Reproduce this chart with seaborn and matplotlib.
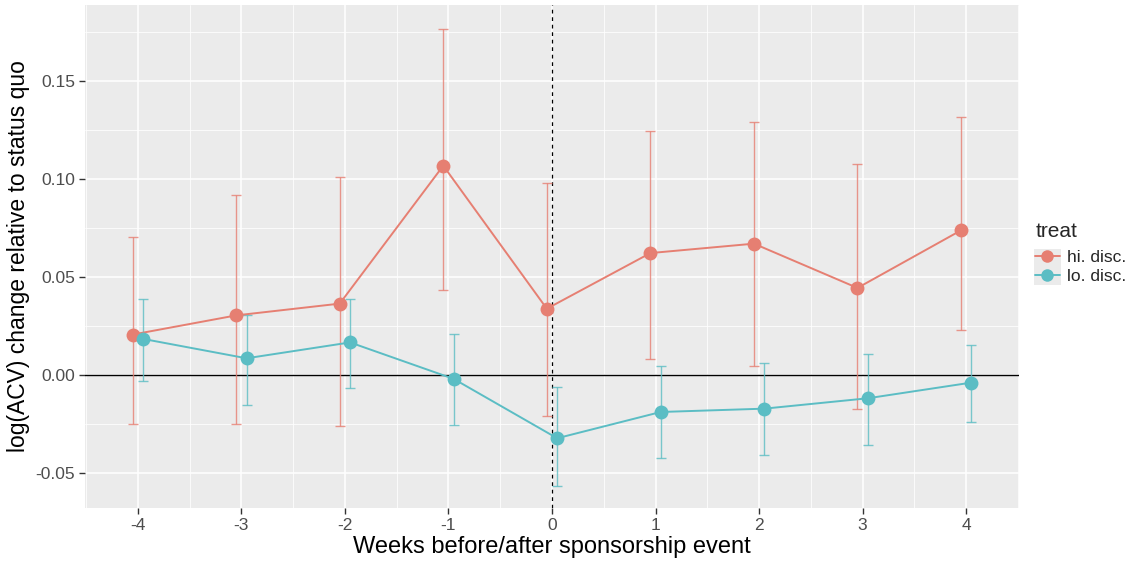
import numpy as np
import pandas as pd
import matplotlib
matplotlib.use("Agg")
import matplotlib.pyplot as plt
from matplotlib.patches import Rectangle
import seaborn as sns

weeks = [-4, -3, -2, -1, 0, 1, 2, 3, 4]
treat_levels = ["hi. disc.", "lo. disc."]

hi_est = [0.0208, 0.0306, 0.0366, 0.1070, 0.0340, 0.0624, 0.0672, 0.0446, 0.0740]
hi_lo = [-0.0250, -0.0246, -0.0260, 0.0436, -0.0210, 0.0082, 0.0046, -0.0172, 0.0232]
hi_hi = [0.0706, 0.0922, 0.1012, 0.1770, 0.0980, 0.1245, 0.1293, 0.1079, 0.1316]

lo_est = [0.0186, 0.0087, 0.0168, -0.0018, -0.0321, -0.0187, -0.0170, -0.0117, -0.0037]
lo_lo = [-0.0029, -0.0150, -0.0064, -0.0255, -0.0564, -0.0420, -0.0406, -0.0357, -0.0238]
lo_hi = [0.0390, 0.0308, 0.0390, 0.0209, -0.0059, 0.0046, 0.0061, 0.0111, 0.0155]

colors = {"hi. disc.": "#E67F72", "lo. disc.": "#5BBDC4"}
dodge = {"hi. disc.": -0.05, "lo. disc.": 0.05}

df = pd.DataFrame({
    "week": weeks * 2,
    "treat": [treat_levels[0]] * 9 + [treat_levels[1]] * 9,
    "est": hi_est + lo_est,
    "lo": hi_lo + lo_lo,
    "hi": hi_hi + lo_hi,
})
df["xd"] = df["week"] + df["treat"].map(dodge)

sns.set_theme(style="darkgrid")
plt.rcParams["font.family"] = ["Liberation Sans", "DejaVu Sans"]

fig = plt.figure(figsize=(11.31, 5.64), dpi=100)
ax = fig.add_axes([85 / 1131, 1 - 508 / 564, (1019 - 85) / 1131, (508 - 5) / 564])
ax.set_facecolor("#EBEBEB")

# reference lines
ax.axhline(0, color="black", lw=1.0, zorder=1.5)
ax.axvline(0, color="black", lw=0.9, ls=(0, (3, 3)), zorder=1.5)

# error bars
for t in treat_levels:
    sub = df[df["treat"] == t]
    ax.errorbar(sub["xd"], sub["est"],
                yerr=[sub["est"] - sub["lo"], sub["hi"] - sub["est"]],
                fmt="none", ecolor=colors[t], elinewidth=1.0, capsize=3.6,
                capthick=1.0, alpha=0.8, zorder=2)

sns.lineplot(data=df, x="xd", y="est", hue="treat", hue_order=treat_levels,
             palette=colors, marker="o", markersize=10, markeredgewidth=0,
             linewidth=1.4, ax=ax, zorder=3, legend=True)

ax.set_xlim(-4.51, 4.51)
ax.set_ylim(-0.0677, 0.189)
ax.set_xticks(weeks)
ax.set_xticklabels([str(w) for w in weeks])
ax.set_yticks([-0.05, 0.0, 0.05, 0.10, 0.15])
ax.set_yticklabels(["-0.05", "0.00", "0.05", "0.10", "0.15"])
ax.set_xticks(np.arange(-4.5, 4.6, 1.0), minor=True)
ax.set_yticks([-0.025, 0.025, 0.075, 0.125, 0.175], minor=True)
ax.grid(which="major", color="white", lw=1.1)
ax.grid(which="minor", color="white", lw=0.55)
for s in ax.spines.values():
    s.set_visible(False)
ax.tick_params(axis="both", which="major", length=4, width=1, color="#333333",
               labelsize=12.5, labelcolor="#4D4D4D", pad=3, direction="out",
               bottom=True, left=True)
ax.tick_params(which="minor", length=0)

ax.set_xlabel("Weeks before/after sponsorship event", fontsize=17, color="black", labelpad=2)
ax.set_ylabel("log(ACV) change relative to status quo", fontsize=16.5, color="black", labelpad=4)

hlen = 1.4
leg = ax.legend(title="treat", loc="upper left", bbox_to_anchor=(1.01, 0.582),
                frameon=False, fontsize=12.5, title_fontsize=15,
                handlelength=hlen, handletextpad=0.4, labelspacing=0.25,
                borderaxespad=0)
leg._legend_box.align = "left"
leg._legend_box.sep = 6
for h in leg.legend_handles:
    h.set_markersize(9)

# grey key background, as in ggplot legends (drawn beneath the legend)
fig.canvas.draw()
px = 12.5 * 100 / 72
tb = [t.get_window_extent() for t in leg.get_texts()]
x1 = tb[0].x0 - 0.4 * px + 1
x0 = x1 - hlen * px - 2
y0 = min(b.y0 for b in tb) - 1
y1 = max(b.y1 for b in tb) + 1
fig.patches.append(Rectangle((x0 / 1131, y0 / 564), (x1 - x0) / 1131, (y1 - y0) / 564,
                             transform=fig.transFigure, facecolor="#EBEBEB",
                             edgecolor="none", zorder=-1))

fig.savefig("out.png", dpi=100)
